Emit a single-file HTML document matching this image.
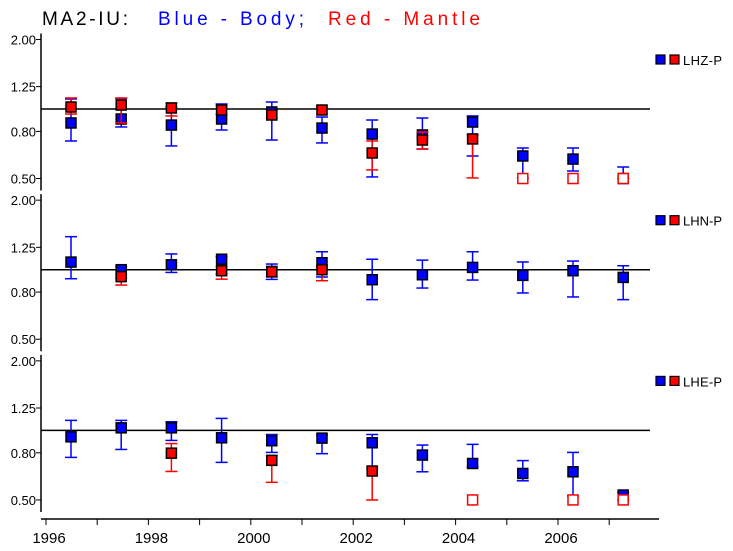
<!DOCTYPE html>
<html><head><meta charset="utf-8"><style>
body{margin:0;background:#fff;}
svg{display:block;font-family:"Liberation Sans",sans-serif;}
</style></head><body>
<svg id="chart" width="733" height="551" viewBox="0 0 733 551" xmlns="http://www.w3.org/2000/svg">
<g font-size="19">
<text x="42" y="25" fill="#000" textLength="86">MA2-IU:</text>
<text x="158" y="25" fill="#0000ff" textLength="146">Blue - Body;</text>
<text x="328" y="25" fill="#ff0000" textLength="152">Red - Mantle</text>
</g>
<g id="plot"></g>
</svg>
<script>
const years = [1996.5,1997.5,1998.5,1999.5,2000.5,2001.5,2002.5,2003.5,2004.5,2005.5,2006.5,2007.5];
const panelNames = ["LHZ-P","LHN-P","LHE-P"];
const yTicks = [2.00,1.25,0.80,0.50];
const xTickYears = [1996,1997,1998,1999,2000,2001,2002,2003,2004,2005,2006,2007];
const xLabelYears = [1996,1998,2000,2002,2004,2006];
// LHZ
const lhzBlue   = [0.870,0.905,0.852,0.905,0.971,0.827,0.779,0.772,0.878,0.626,0.607,0.50];
const lhzBlueHi = [1.105,1.110,1.020,1.051,1.072,0.923,0.896,0.914,0.933,0.678,0.678,0.561];
const lhzBlueLo = [0.727,0.836,0.692,0.811,0.734,0.713,0.508,0.671,0.626,0.503,0.539,0.50];
const lhzRed    = [1.020,1.040,1.010,0.990,0.942,0.990,0.645,0.734,0.742,null,null,null];
const lhzRedHi  = [1.116,1.116,1.062,1.030,0.990,1.030,0.727,0.795,0.772,null,null,null];
const lhzRedLo  = [0.951,0.870,0.933,0.951,0.914,0.951,0.545,0.671,0.503,null,null,null];
const lhzRedMissing = [false,false,false,false,false,false,false,false,false,true,true,true];
// LHN
const lhnBlue   = [1.079,1.000,1.050,1.110,0.983,1.072,0.905,0.951,1.023,0.945,0.990,0.926];
const lhnBlueHi = [1.390,1.030,1.170,1.140,1.058,1.196,1.110,1.100,1.196,1.080,1.090,1.040];
const lhnBlueLo = [0.914,0.920,0.973,0.958,0.908,0.930,0.742,0.833,0.902,0.793,0.762,0.742];
const lhnRed    = [null,0.933,null,0.990,0.980,1.000,null,null,null,null,null,null];
const lhnRedHi  = [null,0.950,null,1.030,1.027,1.040,null,null,null,null,null,null];
const lhnRedLo  = [null,0.858,null,0.910,0.930,0.896,null,null,null,null,null,null];
const lhnRedMissing = [false,false,false,false,false,false,false,false,false,false,false,false];
// LHE
const lheBlue   = [0.938,1.026,1.026,0.929,0.902,0.926,0.884,0.782,0.719,0.651,0.662,0.525];
const lheBlueHi = [1.105,1.105,1.090,1.127,0.960,0.956,0.960,0.864,0.870,0.740,0.803,0.540];
const lheBlueLo = [0.764,0.827,0.905,0.727,0.803,0.793,0.678,0.662,0.695,0.605,0.520,0.500];
const lheRed    = [null,null,0.797,null,0.742,null,0.667,null,null,null,null,null];
const lheRedHi  = [null,null,0.877,null,0.775,null,0.696,null,null,null,null,null];
const lheRedLo  = [null,null,0.664,null,0.596,null,0.500,null,null,null,null,null];
const lheRedMissing = [false,false,false,false,false,false,false,false,true,false,true,true];

const panels = [
 {b:lhzBlue,bh:lhzBlueHi,bl:lhzBlueLo,r:lhzRed,rh:lhzRedHi,rl:lhzRedLo,m:lhzRedMissing},
 {b:lhnBlue,bh:lhnBlueHi,bl:lhnBlueLo,r:lhnRed,rh:lhnRedHi,rl:lhnRedLo,m:lhnRedMissing},
 {b:lheBlue,bh:lheBlueHi,bl:lheBlueLo,r:lheRed,rh:lheRedHi,rl:lheRedLo,m:lheRedMissing}
];
const NS="http://www.w3.org/2000/svg";
const plot=document.getElementById('plot');
function mk(tag,attrs,parent){const e=document.createElementNS(NS,tag);for(const k in attrs)e.setAttribute(k,attrs[k]);(parent||plot).appendChild(e);return e;}
const xScale=yr=>46+(yr-1996)*51.2;
const pointX=yr=>71+(yr-1996.5)*50.2;
const yScale=(v,p)=>109+p*160.7-231*Math.log10(v);

panels.forEach((P,p)=>{
  const g=mk('g',{});
  
  
  const ax=mk('line',{x1:41,x2:41,y1:yScale(2,p)-6,y2:yScale(0.5,p)+12,stroke:'#000','stroke-width':1.5},g);
  
  
  yTicks.forEach(t=>{
    const y=yScale(t,p);
    const tk=mk('line',{x1:36,x2:41,y1:y,y2:y,stroke:'#000'},g);
    
    
    const tl=mk('text',{x:36,y:y+5,'text-anchor':'end','font-size':13},g);
    tl.textContent=t.toFixed(2);
    
    
  });
  const ref=mk('line',{x1:41,x2:650,y1:yScale(1,p),y2:yScale(1,p),stroke:'#000','stroke-width':1.5},g);
  
  
  function series(vals,hi,lo,color,name){
    vals.forEach((v,i)=>{
      if(v==null)return;
      const x=pointX(years[i]);
      const eg=mk('g',{},g);
      
      
      const yh=yScale(hi[i],p),yl=yScale(lo[i],p),yc=yScale(v,p);
      mk('line',{x1:x,x2:x,y1:yh,y2:yl,stroke:color,'stroke-width':1.5},eg);
      mk('line',{x1:x-6,x2:x+6,y1:yh,y2:yh,stroke:color,'stroke-width':1.5},eg);
      mk('line',{x1:x-6,x2:x+6,y1:yl,y2:yl,stroke:color,'stroke-width':1.5},eg);
      mk('rect',{x:x-5,y:yc-5,width:10,height:10,fill:color,stroke:'#000','stroke-width':1.5},eg);
    });
  }
  series(P.b,P.bh,P.bl,'#0000ff','blue');
  series(P.r,P.rh,P.rl,'#ff0000','red');
  P.m.forEach((m,i)=>{
    if(!m)return;
    const x=pointX(years[i]),y=yScale(0.5,p);
    const o=mk('rect',{x:x-5,y:y-5,width:10,height:10,fill:'#fff',stroke:'#ff0000','stroke-width':1.5},g);
    
    
  });
  const ly=60+p*160.7;
  const lg=mk('g',{},g);
  
  
  mk('rect',{x:656,y:ly-5,width:9,height:9,fill:'#0000ff',stroke:'#000','stroke-width':1.2},lg);
  mk('rect',{x:670,y:ly-5,width:9,height:9,fill:'#ff0000',stroke:'#000','stroke-width':1.2},lg);
  const lt=mk('text',{x:683,y:ly+5,'font-size':13,textLength:39},lg);
  lt.textContent=panelNames[p];
});
const xa=mk('line',{x1:41,x2:659,y1:519,y2:519,stroke:'#000','stroke-width':1.5});


xTickYears.forEach(yr=>{
  const t=mk('line',{x1:xScale(yr),x2:xScale(yr),y1:519,y2:525,stroke:'#000'});
  
  
});
xLabelYears.forEach(yr=>{
  const t=mk('text',{x:xScale(yr)+3,y:543,'text-anchor':'middle','font-size':15});
  t.textContent=yr;
  
  
});
</script>
</body></html>
